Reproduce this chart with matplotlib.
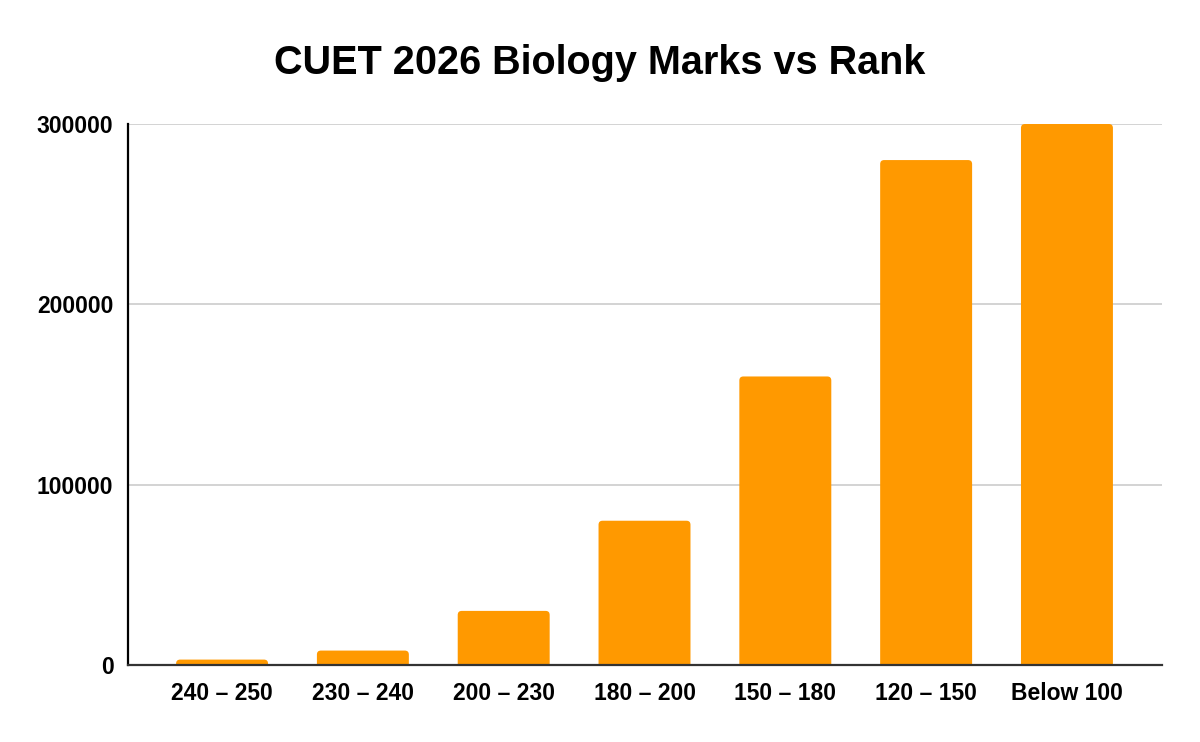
import matplotlib
matplotlib.use("Agg")
import matplotlib.pyplot as plt
from matplotlib.patches import PathPatch
from matplotlib.path import Path

# data
categories = ["240 – 250", "230 – 240", "200 – 230", "180 – 200",
              "150 – 180", "120 – 150", "Below 100"]
ranks = [3000, 8000, 30000, 80000, 160000, 280000, 300000]
y_ticks = [0, 100000, 200000, 300000]

bar_color = "#ff9900"

plt.rcParams['font.family'] = ['Liberation Sans', 'DejaVu Sans']

fig = plt.figure(figsize=(12, 7.42), dpi=100)
ax = fig.add_axes([128 / 1200, 1 - 665 / 742, (1162 - 128) / 1200, (665 - 124) / 742])

x = list(range(len(categories)))
bars = ax.bar(x, ranks, width=0.653, color=bar_color, zorder=3)

ax.set_xlim(-0.668, 6.675)
ax.set_ylim(0, 300000)

# swap plain bars for ones with slightly rounded top corners
fig.canvas.draw()
inv = ax.transData.inverted()
p0 = inv.transform((0, 0))
p1 = inv.transform((1, 1))
x_per_px = p1[0] - p0[0]
y_per_px = p1[1] - p0[1]
radius_px = 4
for b in bars:
    bx, by = b.get_x(), b.get_y()
    bw, bh = b.get_width(), b.get_height()
    r = min(radius_px, bh / y_per_px)
    rx, ry = r * x_per_px, r * y_per_px
    top = by + bh
    verts = [(bx, by), (bx + bw, by), (bx + bw, top - ry),
             (bx + bw, top), (bx + bw - rx, top),
             (bx + rx, top), (bx, top), (bx, top - ry), (bx, by)]
    codes = [Path.MOVETO, Path.LINETO, Path.LINETO,
             Path.CURVE3, Path.CURVE3,
             Path.LINETO, Path.CURVE3, Path.CURVE3, Path.CLOSEPOLY]
    b.set_visible(False)
    ax.add_patch(PathPatch(Path(verts, codes), facecolor=bar_color,
                           edgecolor='none', zorder=3))

ax.set_xticks(x)
ax.set_xticklabels(categories, fontsize=16.5, fontweight='bold')
ax.set_yticks(y_ticks)
ax.set_yticklabels([str(v) for v in y_ticks], fontsize=16.5, fontweight='bold')
ax.tick_params(axis='both', length=0)
ax.tick_params(axis='x', pad=12)
ax.tick_params(axis='y', pad=10.5)

ax.grid(axis='y', color='#cccccc', linewidth=1.2, zorder=0)
ax.set_axisbelow(True)
for side in ['top', 'right']:
    ax.spines[side].set_visible(False)
ax.spines['left'].set_color('#000000')
ax.spines['left'].set_linewidth(1.6)
ax.spines['bottom'].set_color('#333333')
ax.spines['bottom'].set_linewidth(1.6)
ax.spines['left'].set_zorder(4)
ax.spines['bottom'].set_zorder(4)

fig.text(0.5, 1 - 63 / 742, "CUET 2026 Biology Marks vs Rank",
         ha='center', va='center', fontsize=28.5, fontweight='bold')

fig.savefig('out.png', dpi=100, facecolor='white')
